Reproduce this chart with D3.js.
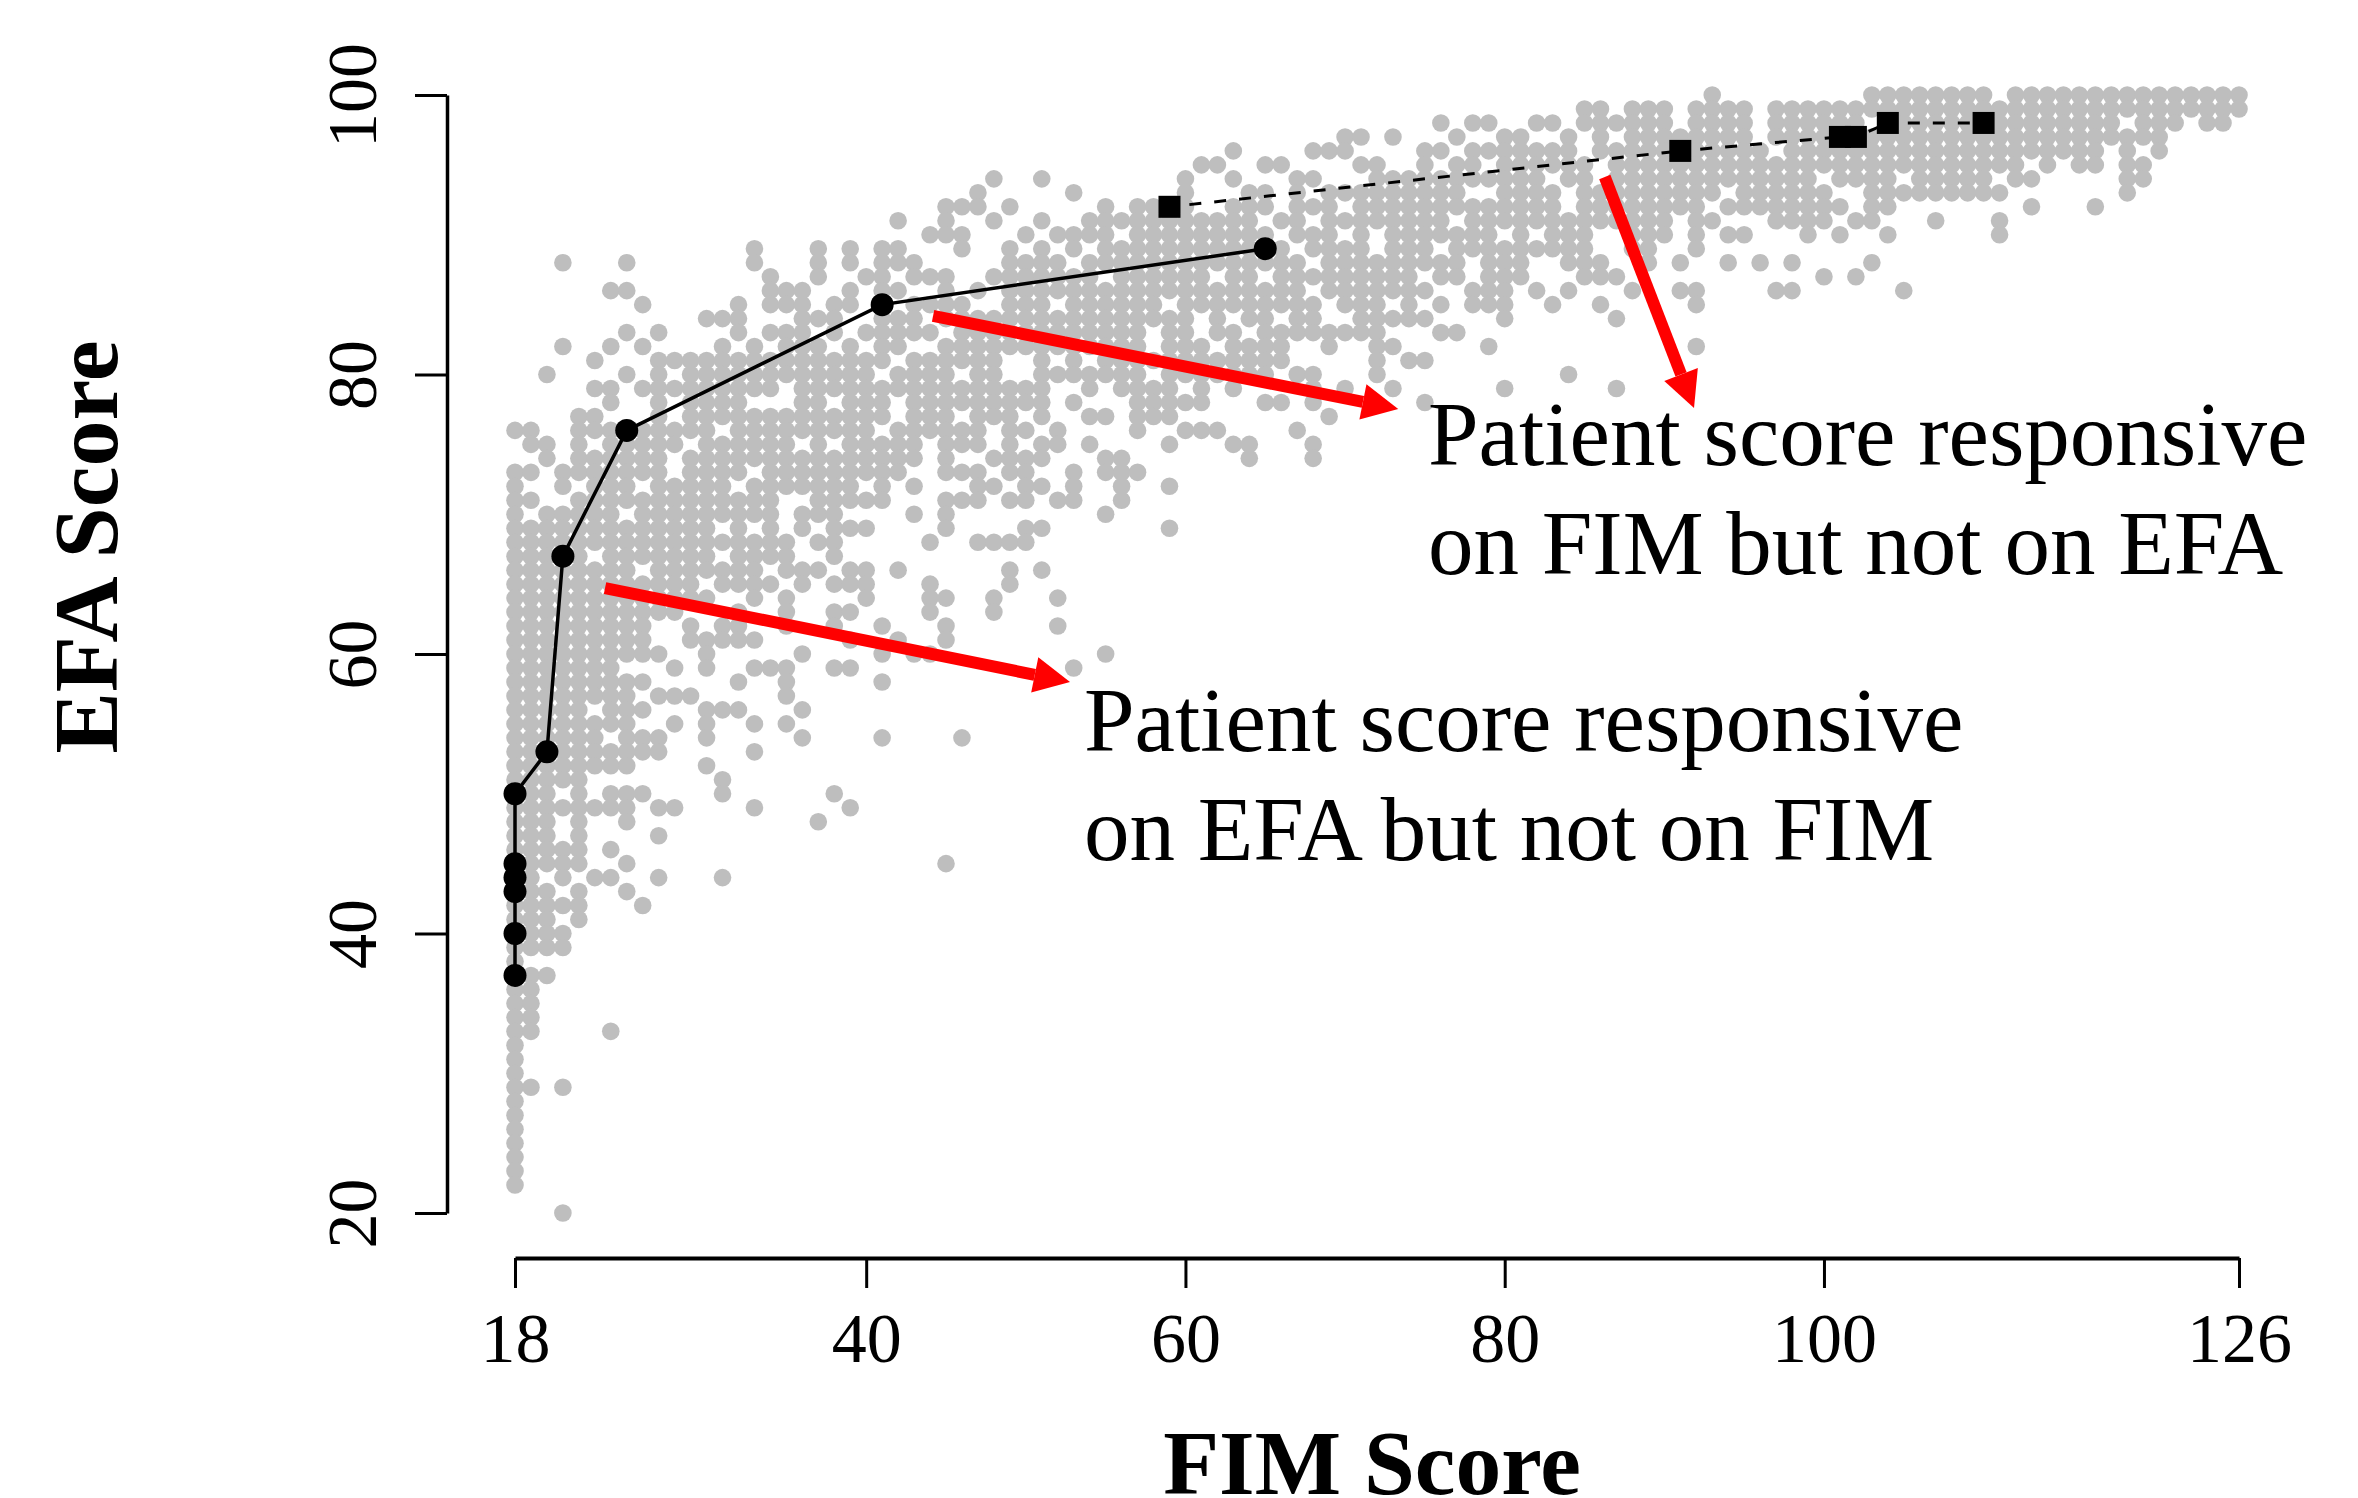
<!DOCTYPE html>
<html>
<head>
<meta charset="utf-8">
<script src="https://cdn.jsdelivr.net/npm/d3@7"></script>
<style>
    html, body { margin: 0; background: #fff; }
    svg { display: block; }
    text { font-family: "Liberation Serif", "Times New Roman", serif; fill: #000; }
</style>
</head>
<body>
<script>
// patient scores, one entry per EFA value, FIM values written as runs
const efaRows = [100, 99, 98, 97, 96, 95, 94, 93, 92, 91, 90,
    89, 88, 87, 86, 85, 84, 83, 82, 81, 80,
    79, 78, 77, 76, 75, 74, 73, 72, 71, 70,
    69, 68, 67, 66, 65, 64, 63, 62, 61, 60,
    59, 58, 57, 56, 55, 54, 53, 52, 51, 50,
    49, 48, 47, 46, 45, 44, 43, 42, 41, 40,
    39, 38, 37, 36, 35, 34, 33, 32, 31, 30,
    29, 28, 27, 26, 25, 24, 23, 22, 20]
const fimRuns = [
    "93 103-110 112-126",
    "85 86 88-90 92-95 97-126",
    "76 78 79 82 83 85-90 92-95 97-102 104-118 120-122 124 125",
    "70 71 73 77 80 81 84 86 88-95 97-121",
    "63 68-70 75 76 78-84 86-96 98-117 119 121",
    "61 62 65 66 71 72 75 77 78 80-85 87-112 114 116 117 119 120",
    "48 51 60 63 67 68 72-82 84 85 87-99 101-104 106-110 112 113 119 120",
    "47 53 60 64 65 67 69-77 80-83 85-93 95-100 103-111 119",
    "45-47 49 55 57-60 63-65 67-69 71-83 85-92 94-101 103 104 113 117",
    "42 45 48 51 54-64 66 67 69-76 78-90 92 93 97-100 102 103 107 111",
    "44-46 50 52-55 57-65 67-69 71 73-79 81 83-85 88-90 92 94 95 99 101 104 111",
    "33 37 39 41 42 46 49 51 53 55-66 68-71 73-75 77-85 88 89 92",
    "21 25 33 37 39 41-43 49-52 54-67 69-77 79-81 84-86 89 91 94 96 98 103",
    "34 37 40 41 43-45 48-54 56-61 63 64 66-74 76 77 79-81 85-87 100 102",
    "24 25 34-36 39 41 42 45 47 49-67 69-75 78-80 82 84 88 91 92 97 98 105",
    "26 32 34-36 38 39 41 43-46 49-51 53-58 60-68 70-72 74 76 78-80 83 86 92",
    "30-32 36-38 41-43 45-60 62 64 65 67 68 71-75 80 87",
    "25 27 32 34-36 38 40-44 46-57 59 60 62 63 65-72 76 77",
    "21 24 26 31 33 35-37 39 41 42 45-57 59-61 63-66 69 72 73 79 92",
    "23 27-41 43-48 51 53 55-66 72 74 75",
    "20 25 27 29-40 42-45 47 48 51-57 59-65 67 68 72 84",
    "23 24 26-34 36-51 54 56-59 61 63 68 70 73 80 87",
    "24 27 29-32 36 37 39-41 43-51 53 57-61 65 66 68 75",
    "22 23 27 29-41 43-45 47-49 51 54 55 57-59 69",
    "18 19 22-30 32-40 42-47 49 50 52 57 60-62 67",
    "19 20 22 24-28 30-35 37 39-43 45-47 49 51 52 54 59 63 64 68",
    "20 22-27 29-43 45 48-51 55 56 64 68",
    "18 19 21-27 29-32 34-42 45-47 49 50 53 55-57",
    "18 21 23-25 27-31 33-39 41 43 47 48 50 51 53 56 59",
    "18 19 22-34 37-41 45-47 49 50 52 53 56",
    "18 20-24 26-34 36-38 43 45 55",
    "18-30 32 34 36 38-40 45 50 51 59",
    "18-35 37 38 44 47-50",
    "18-22 24-30 32-35 38",
    "18-25 27-33 35-37 39 40 42 49 51",
    "18-29 31-34 36 38-40 44 49",
    "18-30 33 35 40 44 45 48 52",
    "18-28 32 35 38 39 44 48",
    "18-26 29 31 32 35 38 41 45 52",
    "18-26 29-33 39 42 45",
    "18-27 30 36 41 43 44 55",
    "18-24 28 30 33-35 38 39 53",
    "18-26 32 35 41",
    "18-25 27-29 35",
    "18-22 24-26 30-32 36",
    "18-25 28 30 33 35",
    "18-23 25-27 30 36 41 46",
    "18-27 33",
    "18-25 30",
    "18-22 31",
    "18-20 22 24-26 31 38",
    "18-25 27 28 33 39",
    "18-20 22 25 37",
    "18-20 22 27",
    "18-22 24",
    "18-22 25 45",
    "18 19 21 23 24 27 31",
    "18-20 22 25",
    "18-22 26",
    "18-20 22",
    "18-21",
    "18-21",
    "18",
    "18-20",
    "18 19",
    "18 19",
    "18 19",
    "18 19 24",
    "18", "18", "18",
    "18 19 21",
    "18", "18", "18", "18", "18", "18", "18",
    "21"
]

// black series, FIM then EFA
const circleFim = [18, 18, 18, 18, 18, 18, 20, 21, 25, 41, 65]
const circleEfa = [37, 40, 43, 44, 45, 50, 53, 67, 76, 85, 89]
const squareFim = [59, 91, 101, 102, 104, 110]
const squareEfa = [92, 96, 97, 97, 98, 98]

const fimTicks = [18, 40, 60, 80, 100, 126]
const efaTicks = [20, 40, 60, 80, 100]

// arrows in chart units: start and tip
const arrowStarts = [[44.19, 84.19], [23.64, 64.72], [86.27, 94.13]]
const arrowTips = [[73.33, 77.53], [52.77, 58.0], [91.86, 77.6]]

const notes = [
    { lines: ["Patient score responsive", "on FIM but not on EFA"], x: 1428, y: 465 },
    { lines: ["Patient score responsive", "on EFA but not on FIM"], x: 1084, y: 751 }
]

const width = 2358
const height = 1498
const x = d3.scaleLinear().domain([18, 126]).range([515, 2239])
const y = d3.scaleLinear().domain([20, 100]).range([1213, 95])

const svg = d3.select("body").append("svg").attr("width", width).attr("height", height)

function readRuns(runs) {
    let values = []
    runs.split(" ").forEach(run => {
        let ends = run.split("-").map(Number)
        for (let v = ends[0]; v <= ends[ends.length - 1]; v++) values.push(v)
    })
    return values
}

let scores = []
efaRows.forEach((efa, i) => {
    readRuns(fimRuns[i]).forEach(fim => scores.push({ fim: fim, efa: efa }))
})

svg.append("g").selectAll("circle")
    .data(scores)
    .enter()
    .append("circle")
    .attr("cx", d => x(d.fim))
    .attr("cy", d => y(d.efa))
    .attr("r", 8.8)
    .attr("fill", "#bebebe")

// solid line with round markers
const circles = circleFim.map((f, i) => [x(f), y(circleEfa[i])])
svg.append("path")
    .attr("d", d3.line()(circles))
    .attr("fill", "none")
    .attr("stroke", "#000")
    .attr("stroke-width", 3.5)
svg.append("g").selectAll("circle")
    .data(circles)
    .enter()
    .append("circle")
    .attr("cx", d => d[0])
    .attr("cy", d => d[1])
    .attr("r", 11.5)
    .attr("fill", "#000")

// dashed line, each piece starts clear of its square
const squares = squareFim.map((f, i) => [x(f), y(squareEfa[i])])
d3.pairs(squares).forEach(pair => {
    let dx = pair[1][0] - pair[0][0]
    let dy = pair[1][1] - pair[0][1]
    let len = Math.hypot(dx, dy)
    let pad = Math.min(20, len * 0.4)
    svg.append("path")
        .attr("d", d3.line()([[pair[0][0] + dx / len * pad, pair[0][1] + dy / len * pad], pair[1]]))
        .attr("fill", "none")
        .attr("stroke", "#000")
        .attr("stroke-width", 3)
        .attr("stroke-dasharray", "12 13")
})
svg.append("g").selectAll("rect")
    .data(squares)
    .enter()
    .append("rect")
    .attr("x", d => d[0] - 11)
    .attr("y", d => d[1] - 11)
    .attr("width", 22)
    .attr("height", 22)
    .attr("fill", "#000")

// axes
const xAxis = svg.append("g")
    .attr("transform", "translate(0,1258)")
    .call(d3.axisBottom(x).tickValues(fimTicks).tickSize(30).tickSizeOuter(0).tickFormat(d3.format("d")))
xAxis.selectAll("text")
    .attr("y", 104)
    .attr("dy", 0)
    .attr("font-size", 70)
xAxis.select(".domain").attr("stroke-width", 4)
xAxis.selectAll(".tick line").attr("stroke-width", 3)

const yAxis = svg.append("g")
    .attr("transform", "translate(447,0)")
    .call(d3.axisLeft(y).tickValues(efaTicks).tickSize(32).tickSizeOuter(0).tickFormat(d3.format("d")))
yAxis.selectAll("text")
    .attr("transform", "rotate(-90)")
    .attr("x", 0)
    .attr("y", -71)
    .attr("dy", 0)
    .attr("text-anchor", "middle")
    .attr("font-size", 70)
yAxis.select(".domain").attr("stroke-width", 3.5)
yAxis.selectAll(".tick line").attr("stroke-width", 3)
svg.selectAll("g").attr("font-family", null)

// axis titles
svg.append("text")
    .attr("x", 1372)
    .attr("y", 1494)
    .attr("text-anchor", "middle")
    .attr("font-size", 91.5)
    .attr("font-weight", "bold")
    .text("FIM Score")
svg.append("text")
    .attr("transform", "translate(117,547) rotate(-90)")
    .attr("text-anchor", "middle")
    .attr("font-size", 92)
    .attr("font-weight", "bold")
    .text("EFA Score")

// red arrows
arrowStarts.forEach((start, i) => {
    let from = [x(start[0]), y(start[1])]
    let tip = [x(arrowTips[i][0]), y(arrowTips[i][1])]
    let len = Math.hypot(tip[0] - from[0], tip[1] - from[1])
    let ux = (tip[0] - from[0]) / len
    let uy = (tip[1] - from[1]) / len
    let base = [tip[0] - ux * 36, tip[1] - uy * 36]
    svg.append("path")
        .attr("d", d3.line()([from, base]))
        .attr("stroke", "#ff0000")
        .attr("stroke-width", 12)
    svg.append("path")
        .attr("d", d3.line()([
            tip,
            [base[0] - uy * 18, base[1] + ux * 18],
            [base[0] + uy * 18, base[1] - ux * 18]
        ]) + "Z")
        .attr("fill", "#ff0000")
})

// annotations
notes.forEach(note => {
    note.lines.forEach((line, i) => {
        svg.append("text")
            .attr("x", note.x)
            .attr("y", note.y + i * 109)
            .attr("font-size", 91)
            .text(line)
    })
})
</script>
</body>
</html>
